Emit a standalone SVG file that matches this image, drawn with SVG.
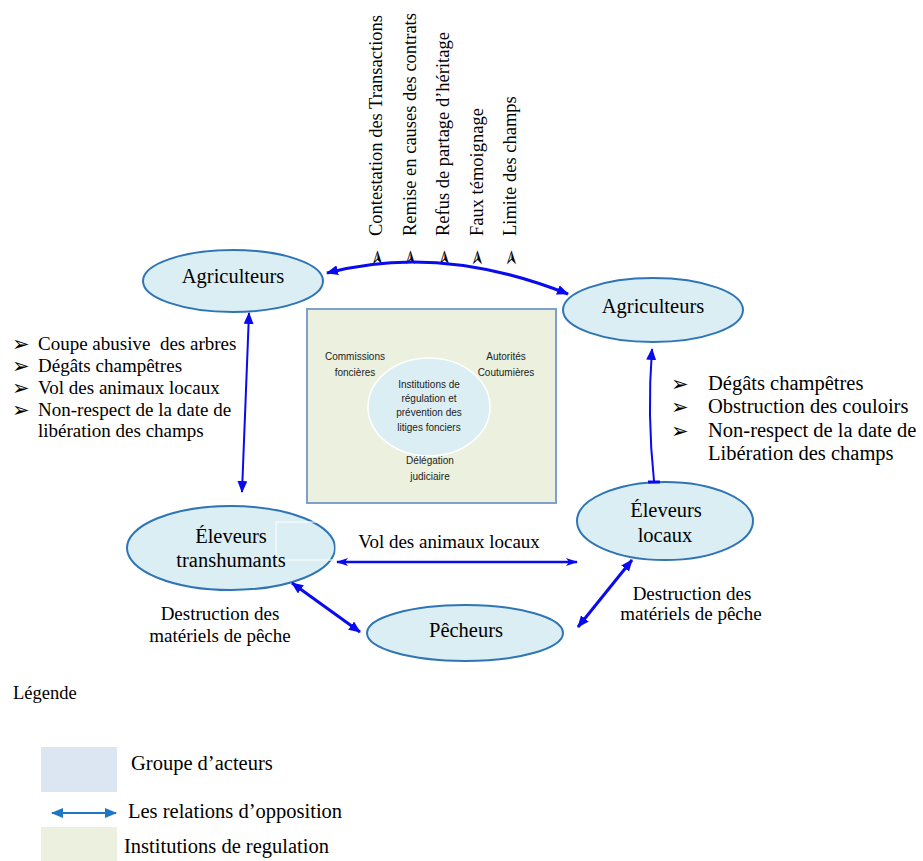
<svg xmlns="http://www.w3.org/2000/svg" width="923" height="861" viewBox="0 0 923 861">
<style>
.serif{font-family:"Liberation Serif","Times New Roman",serif;fill:#000}
.node{font-size:20.5px;text-anchor:middle}
.lbl{font-size:19px}
.small{font-family:"Liberation Sans",Arial,sans-serif;font-size:10px;fill:#222;text-anchor:middle}
.bul{font-family:"DejaVu Sans",sans-serif;fill:#000}
.actor{fill:#dbeef4;stroke:#2e75b6;stroke-width:2}
.conn{fill:none;stroke:#0a0aef}
.leg{font-size:20.5px}
</style>
<defs>
<marker id="ah" markerUnits="userSpaceOnUse" viewBox="0 0 12 10" refX="11" refY="5" markerWidth="12" markerHeight="10" orient="auto-start-reverse">
<path d="M0,0 L12,5 L0,10 z" fill="#0a0aef"/>
</marker>
<marker id="ahn" markerUnits="userSpaceOnUse" viewBox="0 0 12 8" refX="11" refY="4" markerWidth="12" markerHeight="8" orient="auto-start-reverse">
<path d="M0,0 L12,4 L0,8 L3,4 z" fill="#0a0aef"/>
</marker>
<marker id="ahl" markerUnits="userSpaceOnUse" viewBox="0 0 12 10" refX="11" refY="5" markerWidth="12" markerHeight="10" orient="auto-start-reverse">
<path d="M0,0 L12,5 L0,10 z" fill="#1f77c4"/>
</marker>
</defs>
<rect width="923" height="861" fill="#fff"/>

<g id="rotated-labels" class="serif" font-size="18.5">
<text transform="translate(382,236) rotate(-90)">Contestation des Transactions</text>
<text transform="translate(416,236) rotate(-90)">Remise en causes des contrats</text>
<text transform="translate(449,236) rotate(-90)">Refus de partage d’héritage</text>
<text transform="translate(483,236) rotate(-90)">Faux témoignage</text>
<text transform="translate(516,236) rotate(-90)">Limite des champs</text>
</g>
<g id="rotated-bullets" class="bul" font-size="21" text-anchor="middle" dominant-baseline="central">
<text transform="translate(377,258) rotate(-90)">➢</text>
<text transform="translate(410,258) rotate(-90)">➢</text>
<text transform="translate(444,258) rotate(-90)">➢</text>
<text transform="translate(477,258) rotate(-90)">➢</text>
<text transform="translate(511,258) rotate(-90)">➢</text>
</g>

<g id="institutions">
<rect x="307" y="309" width="249" height="194" fill="#ebf1de" stroke="#7f9fcc" stroke-width="2"/>
<ellipse cx="429" cy="407" rx="61" ry="49" fill="#dbeef4" stroke="#fff" stroke-width="1.5"/>
<text class="small" x="355" y="360">Commissions</text>
<text class="small" x="355" y="376">foncières</text>
<text class="small" x="506" y="360">Autorités</text>
<text class="small" x="506" y="376">Coutumières</text>
<text class="small" x="429" y="388">Institutions de</text>
<text class="small" x="429" y="402">régulation et</text>
<text class="small" x="429" y="416">prévention des</text>
<text class="small" x="429" y="431">litiges fonciers</text>
<text class="small" x="430" y="464">Délégation</text>
<text class="small" x="430" y="480">judiciaire</text>
</g>

<g id="agriculteurs-gauche">
<ellipse class="actor" cx="233" cy="281" rx="90" ry="31"/>
<text class="serif node" x="233" y="283">Agriculteurs</text>
</g>
<g id="agriculteurs-droite">
<ellipse class="actor" cx="653" cy="310" rx="90" ry="32"/>
<text class="serif node" x="653" y="313">Agriculteurs</text>
</g>
<g id="eleveurs-transhumants">
<ellipse class="actor" cx="231" cy="548" rx="104" ry="42"/>
<rect x="276" y="522" width="60" height="38" fill="none" stroke="#fff" stroke-width="1"/>
<text class="serif node" x="231" y="543">Éleveurs</text>
<text class="serif node" x="231" y="567">transhumants</text>
</g>
<g id="eleveurs-locaux">
<ellipse class="actor" cx="665" cy="521" rx="88" ry="39"/>
<text class="serif node" x="666" y="517">Éleveurs</text>
<text class="serif node" x="665" y="542">locaux</text>
</g>
<g id="pecheurs">
<ellipse class="actor" cx="465" cy="633" rx="98" ry="28"/>
<text class="serif node" x="466" y="637">Pêcheurs</text>
</g>

<g id="connectors">
<path class="conn" stroke-width="3" d="M327,273 Q440,243 568,294" marker-start="url(#ah)" marker-end="url(#ah)"/>
<path class="conn" stroke-width="2" d="M249,313 L242,492" marker-start="url(#ah)" marker-end="url(#ah)"/>
<path class="conn" stroke-width="2" d="M652,349 Q647,415 654,481" marker-start="url(#ah)"/>
<line x1="648" y1="482" x2="660" y2="482" stroke="#0a0aef" stroke-width="3"/>
<path class="conn" stroke-width="2.5" d="M337,562 L577,562" marker-start="url(#ahn)" marker-end="url(#ahn)"/>
<path class="conn" stroke-width="3" d="M292,583 L360,632" marker-start="url(#ah)" marker-end="url(#ah)"/>
<path class="conn" stroke-width="3" d="M632,560 L578,627" marker-start="url(#ah)" marker-end="url(#ah)"/>
</g>

<g id="labels-left">
<g class="bul" font-size="21">
<text x="12" y="351">➢</text>
<text x="12" y="373">➢</text>
<text x="12" y="395">➢</text>
<text x="12" y="417">➢</text>
</g>
<g class="serif lbl">
<text x="38" y="350" xml:space="preserve">Coupe abusive  des arbres</text>
<text x="38" y="372">Dégâts champêtres</text>
<text x="38" y="394">Vol des animaux locaux</text>
<text x="38" y="416">Non-respect de la date de</text>
<text x="38" y="437">libération des champs</text>
</g>
</g>
<g id="labels-right">
<g class="bul" font-size="21">
<text x="671" y="391">➢</text>
<text x="671" y="414">➢</text>
<text x="671" y="438">➢</text>
</g>
<g class="serif" font-size="20.5">
<text x="708" y="390">Dégâts champêtres</text>
<text x="708" y="413">Obstruction des couloirs</text>
<text x="708" y="437">Non-respect de la date de</text>
<text x="708" y="460">Libération des champs</text>
</g>
</g>
<g id="edge-labels" class="serif lbl" text-anchor="middle">
<text x="449" y="548">Vol des animaux locaux</text>
<text x="220" y="620">Destruction des</text>
<text x="220" y="642">matériels de pêche</text>
<text x="692" y="600">Destruction des</text>
<text x="691" y="620">matériels de pêche</text>
</g>

<g id="legend">
<text class="serif" font-size="18.5" x="13" y="699">Légende</text>
<rect x="41" y="747" width="76" height="45" fill="#dce6f2"/>
<text class="serif leg" x="131" y="770">Groupe d’acteurs</text>
<line x1="52" y1="813" x2="116" y2="813" stroke="#1f77c4" stroke-width="2" marker-start="url(#ahl)" marker-end="url(#ahl)"/>
<text class="serif leg" x="128" y="818">Les relations d’opposition</text>
<rect x="41" y="827" width="76" height="34" fill="#ebf1de"/>
<text class="serif leg" x="124" y="853">Institutions de regulation</text>
</g>
</svg>
